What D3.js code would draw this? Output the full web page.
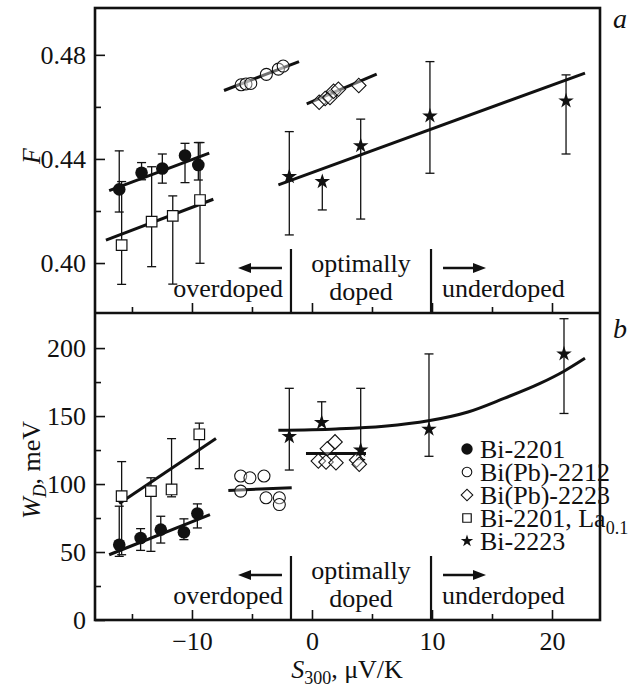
<!DOCTYPE html>
<html>
<head>
<meta charset="utf-8">
<script src="https://cdn.jsdelivr.net/npm/d3@7"></script>
<style>
body { margin: 0; background: #fff; }
text { font-family: "Liberation Serif", "Times New Roman", serif; fill: #111; }
</style>
</head>
<body>
<script>
// ---- panel a : F ----
const fBi2201 = [
  {s: -16.06, v: 0.4283, lo: 0.4196, hi: 0.4431},
  {s: -14.2,  v: 0.4347, lo: 0.4320, hi: 0.4386},
  {s: -12.47, v: 0.4363, lo: 0.4307, hi: 0.4419},
  {s: -10.58, v: 0.4413, lo: 0.4309, hi: 0.4460},
  {s: -9.47,  v: 0.4377, lo: 0.4319, hi: 0.4463}
]
const fLa = [
  {s: -15.86, v: 0.4069, lo: 0.3918, hi: 0.4313},
  {s: -13.36, v: 0.4159, lo: 0.3986, hi: 0.4370},
  {s: -11.6,  v: 0.4181, lo: 0.3919, hi: 0.4258},
  {s: -9.33,  v: 0.4242, lo: 0.3999, hi: 0.4463}
]
const fBiPb2212 = [
  {s: -5.9, v: 0.4685}, {s: -5.5, v: 0.4688}, {s: -5.1, v: 0.4690},
  {s: -3.8, v: 0.4725}, {s: -2.8, v: 0.4745}, {s: -2.4, v: 0.4757}
]
const fBiPb2223 = [
  {s: 0.6, v: 0.4618}, {s: 1.1, v: 0.4632}, {s: 1.5, v: 0.4636},
  {s: 1.8, v: 0.4660}, {s: 2.2, v: 0.4668}, {s: 3.9, v: 0.4682}
]
const fBi2223 = [
  {s: -1.89, v: 0.4332, lo: 0.4108, hi: 0.4505},
  {s: 0.86,  v: 0.4313, lo: 0.4204, hi: 0.4313},
  {s: 4.06,  v: 0.4451, lo: 0.4169, hi: 0.4553},
  {s: 9.83,  v: 0.4565, lo: 0.4345, hi: 0.4774},
  {s: 21.17, v: 0.4623, lo: 0.4419, hi: 0.4723}
]
const fFits = [
  [[-16.9, 0.4278], [-8.56, 0.4422]],
  [[-17.17, 0.4088], [-8.22, 0.4245]],
  [[-7.33, 0.4663], [-1.08, 0.4774]],
  [[-0.44, 0.4612], [5.39, 0.4726]],
  [[-2.8, 0.4300], [22.75, 0.4730]]
]

// ---- panel b : W_D ----
const wBi2201 = [
  {s: -16.06, v: 55.4, lo: 46.8, hi: 83.7},
  {s: -14.28, v: 60.3, lo: 51.2, hi: 67.2},
  {s: -12.6,  v: 66.5, lo: 56.6, hi: 76.3},
  {s: -10.67, v: 64.5, lo: 59.1, hi: 74.4},
  {s: -9.55,  v: 78.3, lo: 67.7, hi: 85.4}
]
const wLa = [
  {s: -15.86, v: 91.1, lo: 48.0, hi: 116.5},
  {s: -13.42, v: 94.8, lo: 50.5, hi: 104.6},
  {s: -11.7,  v: 96.0, lo: 90.6, hi: 133.4},
  {s: -9.39,  v: 136.6, lo: 111.3, hi: 144.8}
]
const wBiPb2212 = [
  {s: -5.94, v: 105.9}, {s: -5.17, v: 104.6}, {s: -4.0, v: 105.9},
  {s: -5.94, v: 94.8}, {s: -3.83, v: 89.9}, {s: -2.72, v: 89.9}, {s: -2.72, v: 84.9}
]
const wBiPb2223 = [
  {s: 0.53, v: 116.9}, {s: 1.28, v: 126.0}, {s: 1.92, v: 131.0}, {s: 1.17, v: 116.2},
  {s: 2.0, v: 115.7}, {s: 3.72, v: 117.7}, {s: 3.94, v: 114.5}
]
const wBi2223 = [
  {s: -1.89, v: 134.9, lo: 110.3, hi: 170.4},
  {s: 0.81,  v: 145.2, lo: 145.2, hi: 160.5},
  {s: 4.06,  v: 125.0, lo: 118.0, hi: 170.4},
  {s: 9.75,  v: 140.3, lo: 120.4, hi: 195.7},
  {s: 21.0,  v: 195.7, lo: 151.9, hi: 221.6}
]
const wFits = [
  [[-16.9, 48.0], [-8.5, 77.5]],
  [[-16.06, 85.7], [-8.0, 133.5]],
  [[-6.97, 95.3], [-1.69, 97.3]],
  [[-0.5, 122.4], [4.5, 122.4]]
]
const wCurve2223 = [[-2.8, 139.5], [2, 140.5], [6, 142.5], [9.7, 146.5], [13, 153],
                    [16, 163], [19, 174], [21, 183], [22.75, 192.5]]

// dividing lines between doping regions
const dividers = [-1.75, 9.92]

const legendNames = ["Bi-2201", "Bi(Pb)-2212", "Bi(Pb)-2223", "Bi-2201, La", "Bi-2223"]
const legendKinds = ["dot", "circle", "diamond", "square", "star"]

var svg = d3.select("body").append("svg")
    .attr("width", 635)
    .attr("height", 688)

var pLeft = 95, pRight = 600, pTop = 8, pMid = 313, pBottom = 620

var x = d3.scaleLinear().domain([-18.08, 24]).range([pLeft, pRight])
var yF = d3.scaleLinear().domain([0.3808, 0.498]).range([pMid, pTop])
var yW = d3.scaleLinear().domain([0, 225.8]).range([pBottom, pMid])

// axes
function styleAxis(g) {
    g.select(".domain").remove()
    g.attr("font-size", 26)
    g.selectAll("line").attr("stroke", "#111").attr("stroke-width", 1.6)
    g.selectAll("text").attr("fill", "#111")
}
svg.append("g").attr("transform", "translate(" + pLeft + ",0)")
    .call(d3.axisLeft(yF).tickValues([0.40, 0.44, 0.48]).tickFormat(d3.format(".2f"))
        .tickSizeInner(-10).tickSizeOuter(0).tickPadding(9))
    .call(styleAxis)
svg.append("g").attr("transform", "translate(" + pLeft + ",0)")
    .call(d3.axisLeft(yF).tickValues([0.42, 0.46]).tickFormat("").tickSizeInner(-6).tickSizeOuter(0))
    .call(styleAxis)
svg.append("g").attr("transform", "translate(" + pLeft + ",0)")
    .call(d3.axisLeft(yW).tickValues([0, 50, 100, 150, 200]).tickFormat(d3.format("d"))
        .tickSizeInner(-10).tickSizeOuter(0).tickPadding(9))
    .call(styleAxis)
svg.append("g").attr("transform", "translate(" + pLeft + ",0)")
    .call(d3.axisLeft(yW).tickValues([25, 75, 125, 175]).tickFormat("").tickSizeInner(-6).tickSizeOuter(0))
    .call(styleAxis)

// x ticks at bottom of both panels
;[pMid, pBottom].forEach(function(yy) {
    svg.append("g").attr("transform", "translate(0," + yy + ")")
        .call(d3.axisBottom(x).tickValues([-10, 0, 10, 20]).tickFormat(yy == pBottom ? d3.format("d") : "")
            .tickSizeInner(-10).tickSizeOuter(0).tickPadding(11.5))
        .call(styleAxis)
    svg.append("g").attr("transform", "translate(0," + yy + ")")
        .call(d3.axisBottom(x).tickValues([-15, -5, 5, 15]).tickFormat("")
            .tickSizeInner(-6).tickSizeOuter(0))
        .call(styleAxis)
})

// frame
svg.append("rect").attr("x", pLeft).attr("y", pTop)
    .attr("width", pRight - pLeft).attr("height", pBottom - pTop)
    .attr("fill", "none").attr("stroke", "#111").attr("stroke-width", 2.6)
svg.append("line").attr("x1", pLeft).attr("x2", pRight).attr("y1", pMid).attr("y2", pMid)
    .attr("stroke", "#111").attr("stroke-width", 2.6)

// region labels for each panel
;[pMid, pBottom].forEach(function(yy) {
    dividers.forEach(function(d) {
        svg.append("line").attr("x1", x(d)).attr("x2", x(d))
            .attr("y1", yy - 64).attr("y2", yy)
            .attr("stroke", "#111").attr("stroke-width", 2.2)
    })
    svg.append("text").attr("x", x(dividers[0]) - 8).attr("y", yy - 16)
        .attr("text-anchor", "end").attr("font-size", 26).text("overdoped")
    svg.append("text").attr("x", x(dividers[1]) + 11).attr("y", yy - 16)
        .attr("font-size", 26).text("underdoped")
    var cx = (x(dividers[0]) + x(dividers[1])) / 2
    svg.append("text").attr("x", cx).attr("y", yy - 41)
        .attr("text-anchor", "middle").attr("font-size", 26).text("optimally")
    svg.append("text").attr("x", cx).attr("y", yy - 13)
        .attr("text-anchor", "middle").attr("font-size", 26).text("doped")
    // arrows
    var ay = yy - 45
    var a1 = x(dividers[0]) - 9, a2 = a1 - 44
    svg.append("line").attr("x1", a1).attr("x2", a2 + 8).attr("y1", ay).attr("y2", ay)
        .attr("stroke", "#111").attr("stroke-width", 2.6)
    svg.append("path").attr("d", "M" + a2 + "," + ay + "l13,-5l0,10z").attr("fill", "#111")
    var b1 = x(dividers[1]) + 12, b2 = b1 + 43
    svg.append("line").attr("x1", b1).attr("x2", b2 - 8).attr("y1", ay).attr("y2", ay)
        .attr("stroke", "#111").attr("stroke-width", 2.6)
    svg.append("path").attr("d", "M" + b2 + "," + ay + "l-13,-5l0,10z").attr("fill", "#111")
})

// fit lines
var line = d3.line()
function drawFits(fits, y) {
    fits.forEach(function(f) {
        svg.append("path")
            .attr("d", line(f.map(p => [x(p[0]), y(p[1])])))
            .attr("fill", "none").attr("stroke", "#111").attr("stroke-width", 3)
    })
}
drawFits(fFits, yF)
drawFits(wFits, yW)
svg.append("path")
    .attr("d", d3.line().curve(d3.curveMonotoneX)(wCurve2223.map(p => [x(p[0]), yW(p[1])])))
    .attr("fill", "none").attr("stroke", "#111").attr("stroke-width", 3)

// error bars
function drawErr(data, y) {
    var g = svg.append("g").attr("stroke", "#111").attr("stroke-width", 1.3)
    data.forEach(function(d) {
        g.append("line").attr("x1", x(d.s)).attr("x2", x(d.s))
            .attr("y1", y(d.lo)).attr("y2", y(d.hi))
        if (d.hi > d.v) g.append("line").attr("x1", x(d.s) - 4.5).attr("x2", x(d.s) + 4.5)
            .attr("y1", y(d.hi)).attr("y2", y(d.hi))
        if (d.lo < d.v) g.append("line").attr("x1", x(d.s) - 4.5).attr("x2", x(d.s) + 4.5)
            .attr("y1", y(d.lo)).attr("y2", y(d.lo))
    })
}

// markers
function marker(g, kind, px, py, scale) {
    var k = scale || 1
    if (kind == "dot") {
        g.append("circle").attr("cx", px).attr("cy", py).attr("r", 6.3 * k).attr("fill", "#111")
    } else if (kind == "circle") {
        g.append("circle").attr("cx", px).attr("cy", py).attr("r", 6 * k)
            .attr("fill", "#fff").attr("fill-opacity", 0.4).attr("stroke", "#111").attr("stroke-width", 1.1)
    } else if (kind == "diamond") {
        g.append("path").attr("d", d3.symbol(d3.symbolSquare, 105 * k * k)())
            .attr("transform", "translate(" + px + "," + py + ") rotate(45)")
            .attr("fill", "#fff").attr("fill-opacity", 0.4).attr("stroke", "#111").attr("stroke-width", 1.1)
    } else if (kind == "square") {
        g.append("path").attr("d", d3.symbol(d3.symbolSquare, 112 * k * k)())
            .attr("transform", "translate(" + px + "," + py + ")")
            .attr("fill", "#fff").attr("stroke", "#111").attr("stroke-width", 1.2)
    } else if (kind == "star") {
        g.append("path").attr("d", d3.symbol(d3.symbolStar, 75 * k * k)())
            .attr("transform", "translate(" + px + "," + py + ")")
            .attr("fill", "#111")
    }
}
function drawPts(data, kind, y) {
    var g = svg.append("g")
    data.forEach(d => marker(g, kind, x(d.s), y(d.v)))
}

drawErr(fLa, yF); drawErr(fBi2201, yF); drawErr(fBi2223, yF)
drawPts(fBiPb2212, "circle", yF)
drawPts(fBiPb2223, "diamond", yF)
drawPts(fLa, "square", yF)
drawPts(fBi2201, "dot", yF)
drawPts(fBi2223, "star", yF)

drawErr(wLa, yW); drawErr(wBi2201, yW); drawErr(wBi2223, yW)
drawPts(wBiPb2212, "circle", yW)
drawPts(wBiPb2223, "diamond", yW)
drawPts(wLa, "square", yW)
drawPts(wBi2201, "dot", yW)
drawPts(wBi2223, "star", yW)

// legend
var lg = svg.append("g")
legendNames.forEach(function(name, i) {
    var ly = 449 + i * 23
    marker(lg, legendKinds[i], 467, ly, i == 0 ? 0.9 : 0.8)
    var t = lg.append("text").attr("x", 480).attr("y", ly + 9).attr("font-size", 26).text(name)
    if (i == 3) t.append("tspan").attr("font-size", 18).attr("dy", 7).text("0.1")
})

// axis titles
svg.append("text").attr("transform", "translate(40,156) rotate(-90)")
    .attr("text-anchor", "middle").attr("font-size", 26).attr("font-style", "italic").text("F")
var wt = svg.append("text").attr("transform", "translate(40,470) rotate(-90)")
    .attr("text-anchor", "middle").attr("font-size", 26)
wt.append("tspan").attr("font-style", "italic").text("W")
wt.append("tspan").attr("font-style", "italic").attr("font-size", 18).attr("dy", 6).text("D")
wt.append("tspan").attr("dy", -6).text(", meV")

var xt = svg.append("text").attr("x", 347).attr("y", 678)
    .attr("text-anchor", "middle").attr("font-size", 26)
xt.append("tspan").attr("font-style", "italic").text("S")
xt.append("tspan").attr("font-size", 18).attr("dy", 6).text("300")
xt.append("tspan").attr("dy", -6).text(", μV/K")

svg.append("text").attr("x", 620).attr("y", 28).attr("text-anchor", "middle")
    .attr("font-size", 28).attr("font-style", "italic").text("a")
svg.append("text").attr("x", 620).attr("y", 338).attr("text-anchor", "middle")
    .attr("font-size", 28).attr("font-style", "italic").text("b")
</script>
</body>
</html>
